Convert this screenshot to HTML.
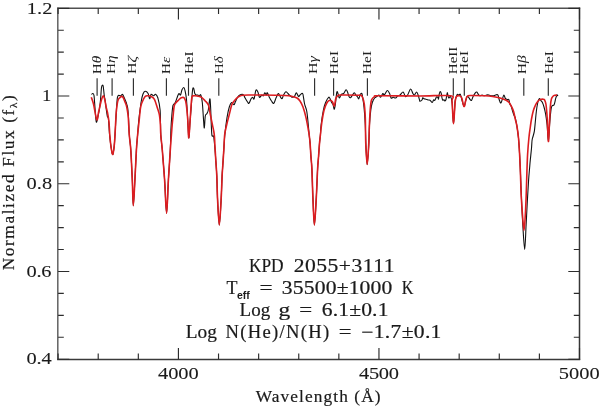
<!DOCTYPE html>
<html><head><meta charset="utf-8"><style>
html,body{margin:0;padding:0;background:#fff;width:600px;height:406px;overflow:hidden}
svg{display:block;will-change:transform}
text{font-family:"Liberation Serif",serif;fill:#1a1a1a;stroke:#1a1a1a;stroke-width:0.2px}
.tk{font-size:17.3px;stroke-width:0.1px}
.ax{font-size:17.3px}
.mt{font-size:18.6px}
.ll{font-size:13px;fill:#222;stroke:none}
.sub{font-family:"Liberation Sans",sans-serif;font-weight:bold;font-size:10.5px;stroke-width:0}
</style></head><body>
<svg width="600" height="406" viewBox="0 0 600 406">
<path d="M57.8,7.6V359.9" stroke="#626262" stroke-width="1.5" fill="none"/>
<path d="M57.1,8.3H580.2" stroke="#505050" stroke-width="1.5" fill="none"/>
<path d="M579.5,7.6V360.1" stroke="#363636" stroke-width="1.5" fill="none"/>
<path d="M57.1,359.4H580.2" stroke="#3a3a3a" stroke-width="1.5" fill="none"/>
<path d="M58.10,359.2v-5.7M58.10,8.3v5.7M98.21,359.2v-5.7M98.21,8.3v5.7M138.32,359.2v-5.7M138.32,8.3v5.7M178.42,359.2v-11.2M178.42,8.3v11.2M218.53,359.2v-5.7M218.53,8.3v5.7M258.64,359.2v-5.7M258.64,8.3v5.7M298.75,359.2v-5.7M298.75,8.3v5.7M338.85,359.2v-5.7M338.85,8.3v5.7M378.96,359.2v-11.2M378.96,8.3v11.2M419.07,359.2v-5.7M419.07,8.3v5.7M459.18,359.2v-5.7M459.18,8.3v5.7M499.28,359.2v-5.7M499.28,8.3v5.7M539.39,359.2v-5.7M539.39,8.3v5.7M579.50,359.2v-11.2M579.50,8.3v11.2M58.1,359.20h11.2M579.5,359.20h-11.2M58.1,337.27h5.7M579.5,337.27h-5.7M58.1,315.34h5.7M579.5,315.34h-5.7M58.1,293.41h5.7M579.5,293.41h-5.7M58.1,271.47h11.2M579.5,271.47h-11.2M58.1,249.54h5.7M579.5,249.54h-5.7M58.1,227.61h5.7M579.5,227.61h-5.7M58.1,205.68h5.7M579.5,205.68h-5.7M58.1,183.75h11.2M579.5,183.75h-11.2M58.1,161.82h5.7M579.5,161.82h-5.7M58.1,139.89h5.7M579.5,139.89h-5.7M58.1,117.96h5.7M579.5,117.96h-5.7M58.1,96.03h11.2M579.5,96.03h-11.2M58.1,74.09h5.7M579.5,74.09h-5.7M58.1,52.16h5.7M579.5,52.16h-5.7M58.1,30.23h5.7M579.5,30.23h-5.7M58.1,8.30h11.2M579.5,8.30h-11.2" stroke="#2c2c2c" stroke-width="1.15" fill="none"/>
<path d="M97.10,95.83V78.18M112.10,95.83V78.18M133.40,95.83V78.18M166.40,95.83V78.18M188.50,95.83V78.18M218.80,95.83V78.18M314.60,95.83V78.18M333.60,95.83V78.18M367.40,95.83V78.18M453.30,95.83V78.18M464.30,95.83V78.18M523.80,95.83V78.18M548.30,95.83V78.18" stroke="#2e2e2e" stroke-width="1.15" fill="none"/>
<text transform="translate(101.12,74.20) rotate(-90) scale(1.1735,1)" class="ll">H<tspan font-style="italic">θ</tspan></text>
<text transform="translate(114.59,74.02) rotate(-90) scale(1.1779,1)" class="ll">H<tspan font-style="italic">η</tspan></text>
<text transform="translate(136.24,74.11) rotate(-90) scale(1.2453,1)" class="ll">H<tspan font-style="italic">ζ</tspan></text>
<text transform="translate(170.36,74.19) rotate(-90) scale(1.2015,1)" class="ll">H<tspan font-style="italic">ε</tspan></text>
<text transform="translate(192.50,74.05) rotate(-90) scale(1.1587,1)" class="ll">HeI</text>
<text transform="translate(223.30,74.12) rotate(-90) scale(1.1526,1)" class="ll">H<tspan font-style="italic">δ</tspan></text>
<text transform="translate(317.42,74.11) rotate(-90) scale(1.2470,1)" class="ll">H<tspan font-style="italic">γ</tspan></text>
<text transform="translate(338.26,74.20) rotate(-90) scale(1.1974,1)" class="ll">HeI</text>
<text transform="translate(371.38,74.20) rotate(-90) scale(1.1974,1)" class="ll">HeI</text>
<text transform="translate(457.47,74.21) rotate(-90) scale(1.1595,1)" class="ll">HeII</text>
<text transform="translate(468.28,74.20) rotate(-90) scale(1.1974,1)" class="ll">HeI</text>
<text transform="translate(526.37,74.20) rotate(-90) scale(1.1940,1)" class="ll">H<tspan font-style="italic">β</tspan></text>
<text transform="translate(552.50,74.11) rotate(-90) scale(1.1823,1)" class="ll">HeI</text>
<path d="M91.50,94.50 C91.71,94.33 92.33,93.33 92.75,93.50 C93.17,93.67 93.62,93.08 94.00,95.50 C94.38,97.92 94.62,103.58 95.00,108.00 C95.38,112.42 95.80,120.67 96.30,122.00 C96.80,123.33 97.50,118.00 98.00,116.00 C98.50,114.00 98.88,112.67 99.30,110.00 C99.72,107.33 100.13,103.75 100.50,100.00 C100.87,96.25 101.17,89.95 101.50,87.50 C101.83,85.05 102.21,85.47 102.50,85.30 C102.79,85.13 102.97,84.88 103.25,86.50 C103.53,88.12 103.83,92.25 104.20,95.00 C104.58,97.75 105.12,100.33 105.50,103.00 C105.88,105.67 106.18,108.75 106.50,111.00 C106.82,113.25 107.08,115.20 107.40,116.50 C107.72,117.80 108.03,115.72 108.40,118.80 C108.77,121.88 109.13,130.13 109.60,135.00 C110.07,139.87 110.67,144.75 111.20,148.00 C111.73,151.25 112.30,154.83 112.80,154.50 C113.30,154.17 113.83,149.25 114.20,146.00 C114.57,142.75 114.65,140.67 115.00,135.00 C115.35,129.33 115.98,117.33 116.30,112.00 C116.62,106.67 116.72,105.42 116.90,103.00 C117.08,100.58 117.15,98.77 117.40,97.50 C117.65,96.23 117.87,95.67 118.40,95.40 C118.93,95.13 119.90,96.07 120.60,95.90 C121.30,95.73 121.98,94.07 122.60,94.40 C123.22,94.73 123.68,96.50 124.30,97.90 C124.92,99.30 125.73,101.12 126.30,102.80 C126.87,104.48 127.33,105.53 127.70,108.00 C128.07,110.47 128.23,113.10 128.50,117.60 C128.77,122.10 128.92,129.60 129.30,135.00 C129.68,140.40 130.30,142.50 130.80,150.00 C131.30,157.50 131.88,170.72 132.30,180.00 C132.72,189.28 132.87,205.70 133.30,205.70 C133.73,205.70 134.38,189.28 134.90,180.00 C135.42,170.72 135.95,157.50 136.40,150.00 C136.85,142.50 137.23,139.67 137.60,135.00 C137.97,130.33 138.28,125.50 138.60,122.00 C138.92,118.50 139.05,117.50 139.50,114.00 C139.95,110.50 140.72,104.33 141.30,101.00 C141.88,97.67 142.37,95.62 143.00,94.00 C143.63,92.38 144.25,91.38 145.10,91.30 C145.95,91.22 147.35,92.25 148.10,93.50 C148.85,94.75 149.10,98.67 149.60,98.80 C150.10,98.93 150.47,94.80 151.10,94.30 C151.73,93.80 152.65,95.80 153.40,95.80 C154.15,95.80 154.85,93.93 155.60,94.30 C156.35,94.67 157.15,95.38 157.90,98.00 C158.65,100.62 159.62,103.83 160.10,110.00 C160.58,116.17 160.43,128.33 160.80,135.00 C161.17,141.67 161.67,142.50 162.30,150.00 C162.93,157.50 163.88,169.47 164.60,180.00 C165.32,190.53 165.97,213.20 166.60,213.20 C167.23,213.20 167.78,190.53 168.40,180.00 C169.02,169.47 169.88,158.33 170.30,150.00 C170.72,141.67 170.65,135.67 170.90,130.00 C171.15,124.33 171.45,120.08 171.80,116.00 C172.15,111.92 172.42,107.75 173.00,105.50 C173.58,103.25 174.55,104.00 175.30,102.50 C176.05,101.00 176.88,98.00 177.50,96.50 C178.12,95.00 178.50,93.75 179.00,93.50 C179.50,93.25 180.00,95.62 180.50,95.00 C181.00,94.38 181.45,91.05 182.00,89.80 C182.55,88.55 183.30,87.38 183.80,87.50 C184.30,87.62 184.55,88.50 185.00,90.50 C185.45,92.50 186.07,94.92 186.50,99.50 C186.93,104.08 187.22,111.62 187.60,118.00 C187.98,124.38 188.40,137.13 188.80,137.80 C189.20,138.47 189.63,126.63 190.00,122.00 C190.37,117.37 190.58,115.25 191.00,110.00 C191.42,104.75 192.05,94.12 192.50,90.50 C192.95,86.88 193.32,87.80 193.70,88.30 C194.08,88.80 194.37,92.38 194.80,93.50 C195.23,94.62 195.80,94.75 196.30,95.00 C196.80,95.25 197.30,94.87 197.80,95.00 C198.30,95.13 198.80,95.80 199.30,95.80 C199.80,95.80 200.30,93.88 200.80,95.00 C201.30,96.12 201.87,98.73 202.30,102.50 C202.73,106.27 203.07,113.35 203.40,117.60 C203.73,121.85 203.98,128.27 204.30,128.00 C204.62,127.73 204.88,118.37 205.30,116.00 C205.72,113.63 206.30,114.80 206.80,113.80 C207.30,112.80 207.80,112.50 208.30,110.00 C208.80,107.50 209.42,99.30 209.80,98.80 C210.18,98.30 210.35,102.63 210.60,107.00 C210.85,111.37 211.07,120.23 211.30,125.00 C211.53,129.77 211.62,133.72 212.00,135.60 C212.38,137.48 213.17,134.73 213.60,136.30 C214.03,137.87 214.23,141.00 214.60,145.00 C214.97,149.00 215.43,155.13 215.80,160.30 C216.17,165.47 216.50,169.38 216.80,176.00 C217.10,182.62 217.18,191.85 217.60,200.00 C218.02,208.15 218.72,224.90 219.30,224.90 C219.88,224.90 220.63,208.15 221.10,200.00 C221.57,191.85 221.82,181.78 222.10,176.00 C222.38,170.22 222.52,169.63 222.80,165.30 C223.08,160.97 223.47,155.05 223.80,150.00 C224.13,144.95 224.27,140.40 224.80,135.00 C225.33,129.60 226.25,122.27 227.00,117.60 C227.75,112.93 228.53,109.52 229.30,107.00 C230.07,104.48 230.83,102.87 231.60,102.50 C232.37,102.13 233.27,104.92 233.90,104.80 C234.53,104.68 234.78,103.05 235.40,101.80 C236.02,100.55 236.85,98.43 237.60,97.30 C238.35,96.17 239.15,95.50 239.90,95.00 C240.65,94.50 241.48,94.30 242.10,94.30 C242.72,94.30 243.10,94.38 243.60,95.00 C244.10,95.62 244.47,96.87 245.10,98.00 C245.73,99.13 246.77,100.92 247.40,101.80 C248.03,102.68 248.28,103.80 248.90,103.30 C249.52,102.80 250.48,99.80 251.10,98.80 C251.72,97.80 252.10,97.30 252.60,97.30 C253.10,97.30 253.55,99.98 254.10,98.80 C254.65,97.62 255.27,91.33 255.90,90.20 C256.53,89.07 257.30,90.82 257.90,92.00 C258.50,93.18 258.85,96.80 259.50,97.30 C260.15,97.80 261.17,95.25 261.80,95.00 C262.43,94.75 262.80,96.17 263.30,95.80 C263.80,95.43 264.30,92.93 264.80,92.80 C265.30,92.67 265.88,95.00 266.30,95.00 C266.72,95.00 266.80,92.42 267.30,92.80 C267.80,93.18 268.60,95.93 269.30,97.30 C270.00,98.67 270.75,100.00 271.50,101.00 C272.25,102.00 273.05,103.80 273.80,103.30 C274.55,102.80 275.25,99.63 276.00,98.00 C276.75,96.37 277.67,93.87 278.30,93.50 C278.93,93.13 279.18,94.92 279.80,95.80 C280.42,96.68 281.38,98.93 282.00,98.80 C282.62,98.67 282.87,96.18 283.50,95.00 C284.13,93.82 285.05,91.95 285.80,91.70 C286.55,91.45 287.25,92.82 288.00,93.50 C288.75,94.18 289.53,95.17 290.30,95.80 C291.07,96.43 291.85,97.30 292.60,97.30 C293.35,97.30 294.18,96.55 294.80,95.80 C295.42,95.05 295.67,92.68 296.30,92.80 C296.93,92.92 297.98,96.13 298.60,96.50 C299.22,96.87 299.38,95.55 300.00,95.00 C300.62,94.45 301.78,93.20 302.30,93.20 C302.82,93.20 302.72,93.20 303.10,95.00 C303.48,96.80 303.98,101.25 304.60,104.00 C305.22,106.75 306.18,108.00 306.80,111.50 C307.42,115.00 307.90,121.08 308.30,125.00 C308.70,128.92 308.90,131.93 309.20,135.00 C309.50,138.07 309.82,139.90 310.10,143.40 C310.38,146.90 310.60,151.73 310.90,156.00 C311.20,160.27 311.57,162.08 311.90,169.00 C312.23,175.92 312.48,188.17 312.90,197.50 C313.32,206.83 313.83,225.00 314.40,225.00 C314.97,225.00 315.77,206.83 316.30,197.50 C316.83,188.17 317.22,175.92 317.60,169.00 C317.98,162.08 318.28,160.27 318.60,156.00 C318.92,151.73 319.20,146.90 319.50,143.40 C319.80,139.90 320.13,138.07 320.40,135.00 C320.67,131.93 320.60,129.17 321.10,125.00 C321.60,120.83 322.65,113.75 323.40,110.00 C324.15,106.25 324.73,104.62 325.60,102.50 C326.47,100.38 327.85,97.92 328.60,97.30 C329.35,96.68 329.60,97.93 330.10,98.80 C330.60,99.67 331.10,101.50 331.60,102.50 C332.10,103.50 332.65,103.67 333.10,104.80 C333.55,105.93 333.92,109.43 334.30,109.30 C334.68,109.17 334.97,106.88 335.40,104.00 C335.83,101.12 336.40,93.50 336.90,92.00 C337.40,90.50 337.98,94.00 338.40,95.00 C338.82,96.00 338.90,98.12 339.40,98.00 C339.90,97.88 340.70,95.05 341.40,94.30 C342.10,93.55 342.83,94.25 343.60,93.50 C344.37,92.75 345.35,90.05 346.00,89.80 C346.65,89.55 347.00,90.88 347.50,92.00 C348.00,93.12 348.50,95.55 349.00,96.50 C349.50,97.45 350.00,97.82 350.50,97.70 C351.00,97.58 351.37,96.62 352.00,95.80 C352.63,94.98 353.67,92.93 354.30,92.80 C354.93,92.67 355.30,94.38 355.80,95.00 C356.30,95.62 356.80,95.87 357.30,96.50 C357.80,97.13 358.30,99.17 358.80,98.80 C359.30,98.43 359.80,95.18 360.30,94.30 C360.80,93.42 361.43,93.13 361.80,93.50 C362.17,93.87 362.13,94.25 362.50,96.50 C362.87,98.75 363.53,102.25 364.00,107.00 C364.47,111.75 364.98,118.70 365.30,125.00 C365.62,131.30 365.58,138.22 365.90,144.80 C366.22,151.38 366.72,164.50 367.20,164.50 C367.68,164.50 368.42,151.38 368.80,144.80 C369.18,138.22 369.17,130.80 369.50,125.00 C369.83,119.20 370.33,113.75 370.80,110.00 C371.27,106.25 371.67,104.50 372.30,102.50 C372.93,100.50 373.85,99.00 374.60,98.00 C375.35,97.00 376.07,97.00 376.80,96.50 C377.53,96.00 378.37,94.87 379.00,95.00 C379.63,95.13 379.97,97.55 380.60,97.30 C381.23,97.05 382.18,93.88 382.80,93.50 C383.42,93.12 383.55,95.50 384.30,95.00 C385.05,94.50 386.42,90.75 387.30,90.50 C388.18,90.25 388.97,92.25 389.60,93.50 C390.23,94.75 390.48,97.37 391.10,98.00 C391.72,98.63 392.55,97.30 393.30,97.30 C394.05,97.30 394.85,98.25 395.60,98.00 C396.35,97.75 397.05,96.30 397.80,95.80 C398.55,95.30 399.22,95.63 400.10,95.00 C400.98,94.37 402.22,91.75 403.10,92.00 C403.98,92.25 404.65,96.00 405.40,96.50 C406.15,97.00 406.73,96.25 407.60,95.00 C408.47,93.75 409.72,89.25 410.60,89.00 C411.48,88.75 412.27,92.50 412.90,93.50 C413.53,94.50 413.78,95.25 414.40,95.00 C415.02,94.75 415.98,92.00 416.60,92.00 C417.22,92.00 417.60,93.62 418.10,95.00 C418.60,96.38 419.28,99.25 419.60,100.30 C419.92,101.35 419.60,101.35 420.00,101.30 C420.40,101.25 421.54,100.59 422.00,100.00 C422.46,99.41 422.42,97.96 422.75,97.75 C423.08,97.54 423.46,98.50 424.00,98.75 C424.54,99.00 425.33,99.04 426.00,99.25 C426.67,99.46 427.33,99.83 428.00,100.00 C428.67,100.17 429.29,99.83 430.00,100.25 C430.71,100.67 431.67,102.54 432.25,102.50 C432.83,102.46 433.12,100.33 433.50,100.00 C433.88,99.67 434.17,100.67 434.50,100.50 C434.83,100.33 435.17,99.58 435.50,99.00 C435.83,98.42 436.08,97.25 436.50,97.00 C436.92,96.75 437.67,97.17 438.00,97.50 C438.33,97.83 438.29,99.58 438.50,99.00 C438.71,98.42 438.96,95.25 439.25,94.00 C439.54,92.75 439.92,91.58 440.25,91.50 C440.58,91.42 440.96,92.42 441.25,93.50 C441.54,94.58 441.75,96.88 442.00,98.00 C442.25,99.12 442.42,99.96 442.75,100.25 C443.08,100.54 443.62,99.62 444.00,99.75 C444.38,99.88 444.67,101.04 445.00,101.00 C445.33,100.96 445.62,100.83 446.00,99.50 C446.38,98.17 446.96,93.83 447.25,93.00 C447.54,92.17 447.50,93.67 447.75,94.50 C448.00,95.33 448.29,97.67 448.75,98.00 C449.21,98.33 449.96,95.83 450.50,96.50 C451.04,97.17 451.62,98.98 452.00,102.00 C452.38,105.02 452.55,111.00 452.80,114.60 C453.05,118.20 453.25,123.60 453.50,123.60 C453.75,123.60 454.05,118.20 454.30,114.60 C454.55,111.00 454.75,104.77 455.00,102.00 C455.25,99.23 455.42,99.28 455.80,98.00 C456.18,96.72 456.80,94.80 457.30,94.30 C457.80,93.80 458.30,95.00 458.80,95.00 C459.30,95.00 459.80,93.55 460.30,94.30 C460.80,95.05 461.17,97.50 461.80,99.50 C462.43,101.50 463.47,106.05 464.10,106.30 C464.73,106.55 465.10,102.63 465.60,101.00 C466.10,99.37 466.60,97.12 467.10,96.50 C467.60,95.88 468.10,96.80 468.60,97.30 C469.10,97.80 469.60,99.00 470.10,99.50 C470.60,100.00 471.10,100.80 471.60,100.30 C472.10,99.80 472.48,97.75 473.10,96.50 C473.72,95.25 474.68,93.55 475.30,92.80 C475.92,92.05 476.30,91.75 476.80,92.00 C477.30,92.25 477.80,93.67 478.30,94.30 C478.80,94.93 479.17,95.68 479.80,95.80 C480.43,95.92 481.35,95.00 482.10,95.00 C482.85,95.00 483.55,95.80 484.30,95.80 C485.05,95.80 485.83,95.13 486.60,95.00 C487.37,94.87 488.15,94.87 488.90,95.00 C489.65,95.13 490.35,95.67 491.10,95.80 C491.85,95.93 492.65,95.93 493.40,95.80 C494.15,95.67 494.85,95.13 495.60,95.00 C496.35,94.87 497.27,94.12 497.90,95.00 C498.53,95.88 498.90,98.97 499.40,100.30 C499.90,101.63 500.40,103.22 500.90,103.00 C501.40,102.78 501.90,100.33 502.40,99.00 C502.90,97.67 503.42,95.10 503.90,95.00 C504.38,94.90 504.78,97.63 505.30,98.40 C505.82,99.17 506.42,99.40 507.00,99.60 C507.58,99.80 508.32,98.82 508.80,99.60 C509.28,100.38 509.52,103.23 509.90,104.30 C510.28,105.37 510.62,104.75 511.10,106.00 C511.58,107.25 512.32,110.25 512.80,111.80 C513.28,113.35 513.60,114.32 514.00,115.30 C514.40,116.28 514.72,115.92 515.20,117.70 C515.68,119.48 516.35,122.62 516.90,126.00 C517.45,129.38 518.05,133.30 518.50,138.00 C518.95,142.70 519.28,148.53 519.60,154.20 C519.92,159.87 520.12,165.20 520.40,172.00 C520.68,178.80 520.90,186.17 521.30,195.00 C521.70,203.83 522.23,215.92 522.80,225.00 C523.37,234.08 524.15,249.50 524.70,249.50 C525.25,249.50 525.65,233.25 526.10,225.00 C526.55,216.75 526.98,207.50 527.40,200.00 C527.82,192.50 528.23,185.33 528.60,180.00 C528.97,174.67 529.32,171.33 529.60,168.00 C529.88,164.67 529.98,163.28 530.30,160.00 C530.62,156.72 531.20,151.63 531.50,148.30 C531.80,144.97 531.80,142.13 532.10,140.00 C532.40,137.87 532.92,137.03 533.30,135.50 C533.68,133.97 534.07,133.05 534.40,130.80 C534.73,128.55 534.98,125.18 535.30,122.00 C535.62,118.82 535.90,114.87 536.30,111.70 C536.70,108.53 537.20,105.17 537.70,103.00 C538.20,100.83 538.80,99.15 539.30,98.70 C539.80,98.25 540.20,99.70 540.70,100.30 C541.20,100.90 541.75,101.18 542.30,102.30 C542.85,103.42 543.45,105.05 544.00,107.00 C544.55,108.95 545.08,111.00 545.60,114.00 C546.12,117.00 546.63,120.42 547.10,125.00 C547.57,129.58 547.98,141.50 548.40,141.50 C548.82,141.50 549.25,129.55 549.60,125.00 C549.95,120.45 550.22,117.03 550.50,114.20 C550.78,111.37 551.00,109.42 551.30,108.00 C551.60,106.58 551.85,106.20 552.30,105.70 C552.75,105.20 553.55,105.67 554.00,105.00 C554.45,104.33 554.72,102.82 555.00,101.70 C555.28,100.58 555.37,99.42 555.70,98.30 C556.03,97.18 556.62,95.38 557.00,95.00 C557.38,94.62 557.83,95.83 558.00,96.00" stroke="#111" stroke-width="1.1" fill="none" stroke-linejoin="round"/>
<path d="M91.30,97.30 C91.67,98.42 92.58,100.25 93.50,104.00 C94.42,107.75 95.95,118.47 96.80,119.80 C97.65,121.13 98.03,114.47 98.60,112.00 C99.17,109.53 99.67,107.20 100.20,105.00 C100.73,102.80 101.27,100.32 101.80,98.80 C102.33,97.28 102.92,95.82 103.40,95.90 C103.88,95.98 104.27,97.57 104.70,99.30 C105.13,101.03 105.52,104.02 106.00,106.30 C106.48,108.58 107.10,110.38 107.60,113.00 C108.10,115.62 108.63,118.33 109.00,122.00 C109.37,125.67 109.43,130.67 109.80,135.00 C110.17,139.33 110.70,144.75 111.20,148.00 C111.70,151.25 112.30,154.83 112.80,154.50 C113.30,154.17 113.83,149.25 114.20,146.00 C114.57,142.75 114.67,140.50 115.00,135.00 C115.33,129.50 115.80,118.37 116.20,113.00 C116.60,107.63 117.00,105.13 117.40,102.80 C117.80,100.47 118.18,99.87 118.60,99.00 C119.02,98.13 119.37,98.03 119.90,97.60 C120.43,97.17 121.23,96.37 121.80,96.40 C122.37,96.43 122.88,97.15 123.30,97.80 C123.72,98.45 123.80,99.07 124.30,100.30 C124.80,101.53 125.80,103.58 126.30,105.20 C126.80,106.82 126.97,107.93 127.30,110.00 C127.63,112.07 127.97,113.43 128.30,117.60 C128.63,121.77 128.88,129.60 129.30,135.00 C129.72,140.40 130.30,142.50 130.80,150.00 C131.30,157.50 131.88,170.72 132.30,180.00 C132.72,189.28 132.87,205.70 133.30,205.70 C133.73,205.70 134.38,189.28 134.90,180.00 C135.42,170.72 135.95,157.50 136.40,150.00 C136.85,142.50 137.17,139.67 137.60,135.00 C138.03,130.33 138.52,126.50 139.00,122.00 C139.48,117.50 140.00,111.25 140.50,108.00 C141.00,104.75 141.23,104.42 142.00,102.50 C142.77,100.58 144.08,97.62 145.10,96.50 C146.12,95.38 147.10,95.80 148.10,95.80 C149.10,95.80 150.05,95.92 151.10,96.50 C152.15,97.08 153.35,97.40 154.40,99.30 C155.45,101.20 156.57,105.32 157.40,107.90 C158.23,110.48 158.90,112.00 159.40,114.80 C159.90,117.60 160.17,121.33 160.40,124.70 C160.63,128.07 160.48,130.78 160.80,135.00 C161.12,139.22 161.67,142.50 162.30,150.00 C162.93,157.50 163.88,169.47 164.60,180.00 C165.32,190.53 165.97,213.20 166.60,213.20 C167.23,213.20 167.78,190.53 168.40,180.00 C169.02,169.47 169.80,157.50 170.30,150.00 C170.80,142.50 171.08,139.22 171.40,135.00 C171.72,130.78 171.90,128.07 172.20,124.70 C172.50,121.33 172.87,117.92 173.20,114.80 C173.53,111.68 173.78,107.97 174.20,106.00 C174.62,104.03 174.97,104.00 175.70,103.00 C176.43,102.00 177.67,100.88 178.60,100.00 C179.53,99.12 180.35,98.03 181.30,97.70 C182.25,97.37 183.48,96.95 184.30,98.00 C185.12,99.05 185.63,100.50 186.20,104.00 C186.77,107.50 187.27,113.37 187.70,119.00 C188.13,124.63 188.37,138.03 188.80,137.80 C189.23,137.57 189.80,124.23 190.30,117.60 C190.80,110.97 191.18,101.63 191.80,98.00 C192.42,94.37 193.00,96.10 194.00,95.80 C195.00,95.50 196.53,95.93 197.80,96.20 C199.07,96.47 200.40,96.65 201.60,97.40 C202.80,98.15 203.85,99.40 205.00,100.70 C206.15,102.00 207.60,102.83 208.50,105.20 C209.40,107.57 209.75,111.65 210.40,114.90 C211.05,118.15 211.83,121.93 212.40,124.70 C212.97,127.47 213.45,129.45 213.80,131.50 C214.15,133.55 214.32,134.75 214.50,137.00 C214.68,139.25 214.68,141.12 214.90,145.00 C215.12,148.88 215.48,155.13 215.80,160.30 C216.12,165.47 216.50,169.38 216.80,176.00 C217.10,182.62 217.18,191.85 217.60,200.00 C218.02,208.15 218.72,224.90 219.30,224.90 C219.88,224.90 220.63,208.15 221.10,200.00 C221.57,191.85 221.82,181.78 222.10,176.00 C222.38,170.22 222.52,169.63 222.80,165.30 C223.08,160.97 223.48,155.12 223.80,150.00 C224.12,144.88 224.22,138.82 224.70,134.60 C225.18,130.38 225.95,127.98 226.70,124.70 C227.45,121.42 228.37,118.18 229.20,114.90 C230.03,111.62 230.93,107.23 231.70,105.00 C232.47,102.77 233.00,102.62 233.80,101.50 C234.60,100.38 235.55,99.18 236.50,98.30 C237.45,97.42 238.42,96.70 239.50,96.20 C240.58,95.70 241.57,95.50 243.00,95.30 C244.43,95.10 245.27,95.05 248.10,95.00 C250.93,94.95 253.85,94.92 260.00,95.00 C266.15,95.08 279.57,95.25 285.00,95.50 C290.43,95.75 290.60,96.08 292.60,96.50 C294.60,96.92 295.77,97.25 297.00,98.00 C298.23,98.75 299.00,99.50 300.00,101.00 C301.00,102.50 302.00,104.23 303.00,107.00 C304.00,109.77 305.12,113.83 306.00,117.60 C306.88,121.37 307.77,126.70 308.30,129.60 C308.83,132.50 308.90,132.70 309.20,135.00 C309.50,137.30 309.82,139.90 310.10,143.40 C310.38,146.90 310.60,151.73 310.90,156.00 C311.20,160.27 311.57,162.08 311.90,169.00 C312.23,175.92 312.48,188.17 312.90,197.50 C313.32,206.83 313.83,225.00 314.40,225.00 C314.97,225.00 315.77,206.83 316.30,197.50 C316.83,188.17 317.22,175.92 317.60,169.00 C317.98,162.08 318.28,160.27 318.60,156.00 C318.92,151.73 319.20,146.90 319.50,143.40 C319.80,139.90 320.00,138.57 320.40,135.00 C320.80,131.43 321.28,126.17 321.90,122.00 C322.52,117.83 323.23,113.25 324.10,110.00 C324.97,106.75 326.10,104.12 327.10,102.50 C328.10,100.88 329.22,100.42 330.10,100.30 C330.98,100.18 331.70,100.85 332.40,101.80 C333.10,102.75 333.73,106.55 334.30,106.00 C334.87,105.45 335.25,100.20 335.80,98.50 C336.35,96.80 336.80,96.38 337.60,95.80 C338.40,95.22 336.95,95.10 340.60,95.00 C344.25,94.90 356.05,95.10 359.50,95.20 C362.95,95.30 360.78,95.22 361.30,95.60 C361.82,95.98 362.22,96.63 362.60,97.50 C362.98,98.37 363.28,99.38 363.60,100.80 C363.92,102.22 364.22,103.20 364.50,106.00 C364.78,108.80 365.08,111.13 365.30,117.60 C365.52,124.07 365.48,136.98 365.80,144.80 C366.12,152.62 366.72,164.50 367.20,164.50 C367.68,164.50 368.33,151.38 368.70,144.80 C369.07,138.22 369.15,130.80 369.40,125.00 C369.65,119.20 369.85,114.17 370.20,110.00 C370.55,105.83 370.77,102.25 371.50,100.00 C372.23,97.75 373.35,97.20 374.60,96.50 C375.85,95.80 371.43,95.88 379.00,95.80 C386.57,95.72 408.08,96.02 420.00,96.00 C431.92,95.98 445.17,94.87 450.50,95.70 C455.83,96.53 451.62,97.85 452.00,101.00 C452.38,104.15 452.55,110.83 452.80,114.60 C453.05,118.37 453.25,123.60 453.50,123.60 C453.75,123.60 454.00,118.37 454.30,114.60 C454.60,110.83 454.93,104.02 455.30,101.00 C455.67,97.98 455.78,97.37 456.50,96.50 C457.22,95.63 458.72,95.55 459.60,95.80 C460.48,96.05 461.18,96.50 461.80,98.00 C462.42,99.50 462.87,103.42 463.30,104.80 C463.73,106.18 464.02,106.93 464.40,106.30 C464.78,105.67 465.15,102.63 465.60,101.00 C466.05,99.37 466.35,97.42 467.10,96.50 C467.85,95.58 467.10,95.62 470.10,95.50 C473.10,95.38 481.35,95.63 485.10,95.80 C488.85,95.97 490.10,96.13 492.60,96.50 C495.10,96.87 497.85,97.37 500.10,98.00 C502.35,98.63 504.60,99.55 506.10,100.30 C507.60,101.05 508.22,101.50 509.10,102.50 C509.98,103.50 510.65,104.80 511.40,106.30 C512.15,107.80 512.97,109.42 513.60,111.50 C514.23,113.58 514.65,116.38 515.20,118.80 C515.75,121.22 516.35,122.80 516.90,126.00 C517.45,129.20 518.05,133.30 518.50,138.00 C518.95,142.70 519.28,148.53 519.60,154.20 C519.92,159.87 520.13,165.20 520.40,172.00 C520.67,178.80 520.85,187.83 521.20,195.00 C521.55,202.17 522.03,209.08 522.50,215.00 C522.97,220.92 523.53,230.50 524.00,230.50 C524.47,230.50 524.93,220.92 525.30,215.00 C525.67,209.08 525.93,202.10 526.20,195.00 C526.47,187.90 526.67,179.20 526.90,172.40 C527.13,165.60 527.27,159.93 527.60,154.20 C527.93,148.47 528.45,142.53 528.90,138.00 C529.35,133.47 529.87,130.17 530.30,127.00 C530.73,123.83 531.00,121.72 531.50,119.00 C532.00,116.28 532.62,113.07 533.30,110.70 C533.98,108.33 534.83,106.37 535.60,104.80 C536.37,103.23 537.12,102.17 537.90,101.30 C538.68,100.43 539.42,99.95 540.30,99.60 C541.18,99.25 542.48,99.13 543.20,99.20 C543.92,99.27 544.13,99.12 544.60,100.00 C545.07,100.88 545.57,101.50 546.00,104.50 C546.43,107.50 546.80,111.83 547.20,118.00 C547.60,124.17 548.02,140.83 548.40,141.50 C548.78,142.17 549.17,127.92 549.50,122.00 C549.83,116.08 550.08,109.83 550.40,106.00 C550.72,102.17 550.97,100.62 551.40,99.00 C551.83,97.38 552.40,96.92 553.00,96.30 C553.60,95.68 554.33,95.50 555.00,95.30 C555.67,95.10 556.67,95.13 557.00,95.10" stroke="#dc1c20" stroke-width="1.6" fill="none" stroke-linejoin="round"/>
<text transform="translate(248.91,271.7) scale(0.9317,1)" class="mt">KPD</text>
<text transform="translate(293.8,271.7) scale(1.2,1)" class="mt" style="font-size:18.0px" textLength="83.88" lengthAdjust="spacing">2055+3111</text>
<text transform="translate(226.43,293.7) scale(0.968,1)" class="mt">T</text>
<text transform="translate(259.61,293.7) scale(1.2516,1)" class="mt">=</text>
<text transform="translate(281.86,293.7) scale(1.2,1)" class="mt" style="font-size:18.0px" textLength="92.07" lengthAdjust="spacing">35500±1000</text>
<text transform="translate(401.79,293.7) scale(0.8693,1)" class="mt">K</text>
<text transform="translate(239.61,316.0) scale(1.0212,1)" class="mt">Log</text>
<text transform="translate(278.6,316.0) scale(1.2608,1)" class="mt">g</text>
<text transform="translate(299.27,316.0) scale(1.2333,1)" class="mt">=</text>
<text transform="translate(321.82,316.0) scale(1.2,1)" class="mt" style="font-size:18.0px" textLength="55.51" lengthAdjust="spacing">6.1±0.1</text>
<text transform="translate(185.79,337.7) scale(1.0375,1)" class="mt">Log</text>
<text x="225.41" y="337.7" class="mt" text-anchor="start" textLength="103.74" lengthAdjust="spacing">N(He)/N(H)</text>
<text transform="translate(338.87,337.7) scale(1.2172,1)" class="mt">=</text>
<text transform="translate(361.22,337.7) scale(1.2,1)" class="mt" style="font-size:18.0px" textLength="66.84" lengthAdjust="spacing">−1.7±0.1</text>
<text transform="translate(26.78,13.7) scale(1.18,1)" class="tk" textLength="21.75" lengthAdjust="spacing">1.2</text>
<text transform="translate(42.02,100.75) scale(1.0834,1)" class="tk">1</text>
<text transform="translate(26.45,188.7) scale(1.18,1)" class="tk" textLength="21.75" lengthAdjust="spacing">0.8</text>
<text transform="translate(26.6,276.8) scale(1.18,1)" class="tk" textLength="20.98" lengthAdjust="spacing">0.6</text>
<text transform="translate(26.45,364.0) scale(1.18,1)" class="tk" textLength="21.40" lengthAdjust="spacing">0.4</text>
<text transform="translate(157.95,378.9) scale(1.18,1)" class="tk" textLength="34.61" lengthAdjust="spacing">4000</text>
<text transform="translate(359.1,379.0) scale(1.18,1)" class="tk" textLength="33.80" lengthAdjust="spacing">4500</text>
<text transform="translate(558.68,378.75) scale(1.18,1)" class="tk" textLength="34.73" lengthAdjust="spacing">5000</text>
<text x="255.73" y="402.2" class="ax" text-anchor="start" textLength="124.84" lengthAdjust="spacing">Wavelength (Å)</text>
<text x="237" y="298.5" class="sub">eff</text>
<text transform="translate(13.8,270.3) rotate(-90)" class="ax" textLength="175" lengthAdjust="spacing">Normalized Flux (f<tspan font-size="11" dy="3">λ</tspan><tspan dy="-3">)</tspan></text>
</svg>
</body></html>
